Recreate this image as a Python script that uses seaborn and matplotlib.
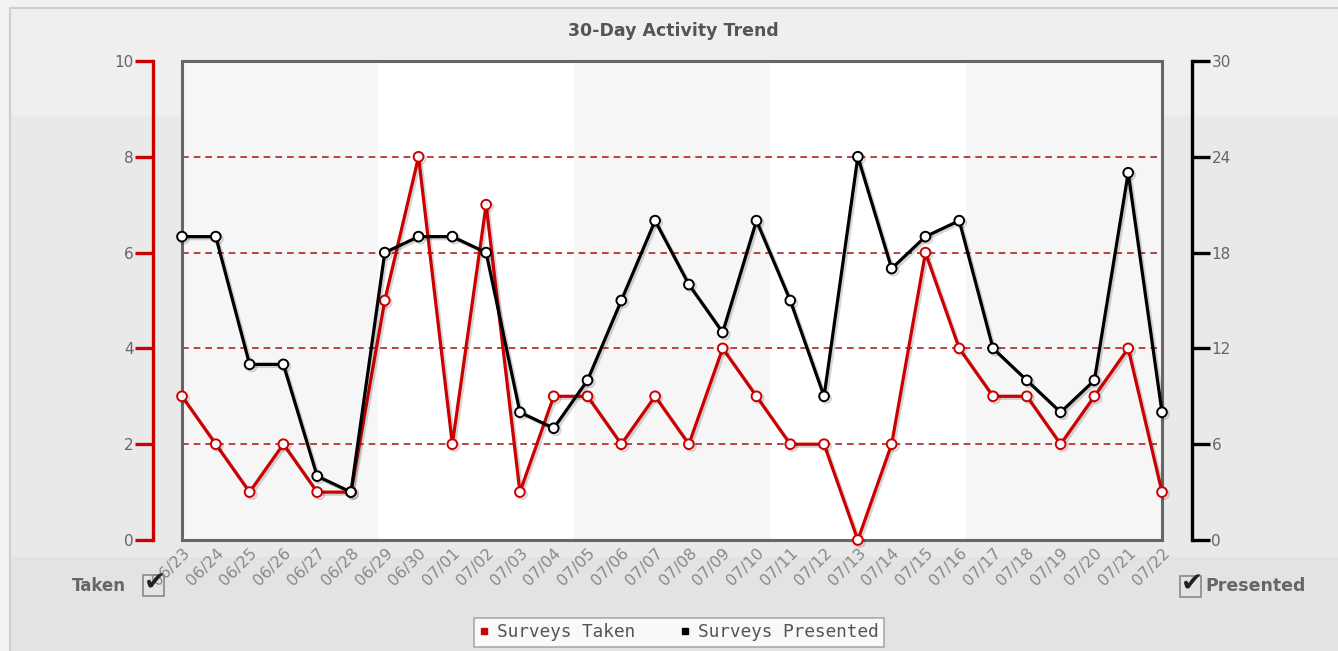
import matplotlib
matplotlib.use("Agg")
import matplotlib.pyplot as plt
import matplotlib.patheffects as pe
from matplotlib.patches import Rectangle
from matplotlib.lines import Line2D
import numpy as np
import pandas as pd
import seaborn as sns

# ---- data -------------------------------------------------------------
dates = ["06/23", "06/24", "06/25", "06/26", "06/27", "06/28", "06/29", "06/30",
         "07/01", "07/02", "07/03", "07/04", "07/05", "07/06", "07/07", "07/08",
         "07/09", "07/10", "07/11", "07/12", "07/13", "07/14", "07/15", "07/16",
         "07/17", "07/18", "07/19", "07/20", "07/21", "07/22"]
surveys_taken = [3, 2, 1, 2, 1, 1, 5, 8, 2, 7, 1, 3, 3, 2, 3, 2, 4, 3, 2, 2,
                 0, 2, 6, 4, 3, 3, 2, 3, 4, 1]
surveys_presented = [19, 19, 11, 11, 4, 3, 18, 19, 19, 18, 8, 7, 10, 15, 20, 16,
                     13, 20, 15, 9, 24, 17, 19, 20, 12, 10, 8, 10, 23, 8]
left_ticks = [0, 2, 4, 6, 8, 10]
right_ticks = [0, 6, 12, 18, 24, 30]

df = pd.DataFrame({"day": np.arange(len(dates)),
                   "taken": surveys_taken,
                   "presented": surveys_presented})

RED = "#cc0000"
BLACK = "#000000"
FRAME = "#666666"
TXT = "#666666"
PT = 72 / 100  # points per pixel at 100 dpi

sns.set_theme(style="white")
plt.rcParams["font.family"] = ["DejaVu Sans"]

W, H = 1338, 651
fig = plt.figure(figsize=(W / 100, H / 100), dpi=100, facecolor="#e4e4e4")


def px(x0, y0, x1, y1):
    """Figure-fraction rect from pixel box (top-left origin)."""
    return [x0 / W, 1 - y1 / H, (x1 - x0) / W, (y1 - y0) / H]


def pixel_axes(z):
    a = fig.add_axes([0, 0, 1, 1], zorder=z, facecolor="none")
    a.set_xlim(0, W)
    a.set_ylim(H, 0)
    a.axis("off")
    return a


# panel backdrop
bg = pixel_axes(-10)
bg.add_patch(Rectangle((0, 0), W, H, color="#f2f2f2"))
bg.add_patch(Rectangle((10, 8), W - 10, H - 8, color="#e3e3e3"))
bg.add_patch(Rectangle((10, 8), W - 10, 108, color="#efefef"))
bg.add_patch(Rectangle((10, 116), W - 10, 440, color="#e9e9e9"))
bg.plot([10, 10, W], [H, 8, 8], color="#cfcfcf", lw=1.5)

rect = px(182, 61, 1162, 540)

# ---- main plot area --------------------------------------------------
ax = fig.add_axes(rect, zorder=2)
ax.set_facecolor("white")
for i in (0, 2, 4):
    ax.add_patch(Rectangle((i * 0.2, 0), 0.2, 1, transform=ax.transAxes,
                           color="#f6f6f6", zorder=0, lw=0))
ax.set_xlim(0, len(dates) - 1)
ax.set_ylim(0, 10)
ax.set_yticks([2, 4, 6, 8])
ax.yaxis.grid(True, color="#b22222", linestyle=(0, (4, 3)), lw=1.2)
ax.tick_params(axis="y", length=0, labelleft=False)
ax.set_xticks(df["day"])
ax.set_xticklabels(dates, rotation=45, ha="right", rotation_mode="anchor",
                   color="#888888", fontsize=11.5)
ax.tick_params(axis="x", length=0, pad=4)
for s in ax.spines.values():
    s.set_color(FRAME)
    s.set_linewidth(2.2)
ax.set_axisbelow(True)

shadow = [pe.SimpleLineShadow(offset=(1.5, -1.5), alpha=0.18, rho=0.3), pe.Normal()]

sns.lineplot(data=df, x="day", y="taken", ax=ax, color=RED, lw=2.3,
             marker="o", markersize=7, markerfacecolor="white",
             markeredgecolor=RED, markeredgewidth=1.4, clip_on=False,
             path_effects=shadow, zorder=3)
ax.set_xlabel("")
ax.set_ylabel("")

ax2 = ax.twinx()
ax2.set_ylim(0, 30)
ax2.set_zorder(3)
sns.lineplot(data=df, x="day", y="presented", ax=ax2, color=BLACK, lw=2.3,
             marker="o", markersize=7, markerfacecolor="white",
             markeredgecolor=BLACK, markeredgewidth=1.4, clip_on=False,
             path_effects=shadow, zorder=3)
ax2.set_ylabel("")
ax2.set_yticks([])
for s in ax2.spines.values():
    s.set_visible(False)

# ---- left scale (red) -----------------------------------------------
axl = fig.add_axes(rect, zorder=1, facecolor="none")
axl.set_ylim(0, 10)
axl.set_xticks([])
for k, s in axl.spines.items():
    s.set_visible(k == "left")
axl.spines["left"].set_position(("outward", 29 * PT))
axl.spines["left"].set_color(RED)
axl.spines["left"].set_linewidth(2.4)
axl.set_yticks(left_ticks)
axl.tick_params(axis="y", left=True, length=18 * PT, width=2.4, color=RED,
                labelcolor=TXT, labelsize=11, pad=1)

# ---- right scale (black) --------------------------------------------
axr = fig.add_axes(rect, zorder=1, facecolor="none")
axr.set_ylim(0, 30)
axr.set_xticks([])
for k, s in axr.spines.items():
    s.set_visible(k == "right")
axr.spines["right"].set_position(("outward", 30 * PT))
axr.spines["right"].set_color(BLACK)
axr.spines["right"].set_linewidth(2.4)
axr.yaxis.tick_right()
axr.set_yticks(right_ticks)
axr.tick_params(axis="y", right=True, length=18 * PT, width=2.4, color=BLACK,
                labelcolor=TXT, labelsize=11, pad=1)

# ---- title -----------------------------------------------------------
fig.text(673 / W, 1 - 31 / H, "30-Day Activity Trend", ha="center",
         va="center", fontsize=12.5, fontweight="bold", color="#555555")

# ---- series toggles ------------------------------------------------
fg = pixel_axes(10)


def checkbox(x, y):
    fg.add_patch(Rectangle((x, y), 21, 21, facecolor="none",
                           edgecolor="#888888", lw=1.2, zorder=5))
    fg.text(x + 12, y + 9, "\u2714", ha="center", va="center",
            fontsize=19, color="#222222", zorder=6)


checkbox(143, 575)
fg.text(126, 586, "Taken", ha="right", va="center", fontsize=12,
        fontweight="bold", color="#666666")
checkbox(1180, 576)
fg.text(1205, 586, "Presented", ha="left", va="center", fontsize=12.5,
        fontweight="bold", color="#666666")

# ---- legend --------------------------------------------------------
handles = [Line2D([], [], ls="none", marker="s", markersize=5, color=RED),
           Line2D([], [], ls="none", marker="s", markersize=5, color=BLACK)]
leg = fig.legend(handles, ["Surveys Taken", "Surveys Presented"],
                 loc="upper center", bbox_to_anchor=(679 / W, 1 - 609 / H),
                 ncol=2, frameon=True, fancybox=False,
                 prop={"family": "DejaVu Sans Mono", "size": 12.8},
                 handlelength=0.5, handletextpad=0.45, columnspacing=2.6,
                 borderpad=0.3, labelcolor="#555555")
leg.get_frame().set_edgecolor("#999999")
leg.get_frame().set_linewidth(1.2)
leg.get_frame().set_facecolor("white")

fig.savefig("out.png", dpi=100, facecolor=fig.get_facecolor())
